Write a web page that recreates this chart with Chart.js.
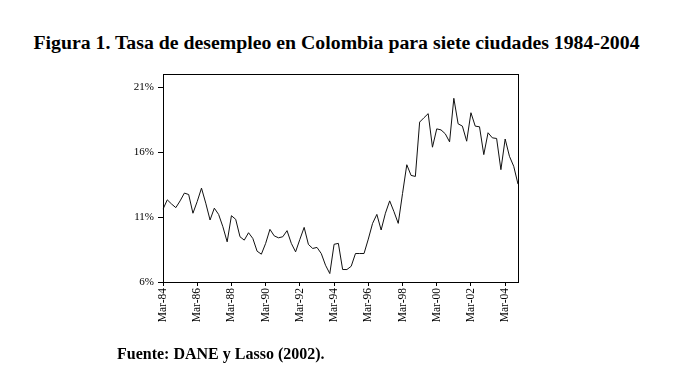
<!DOCTYPE html>
<html>
<head>
<meta charset="utf-8">
<script src="https://cdn.jsdelivr.net/npm/chart.js@4.4.1/dist/chart.umd.min.js"></script>
<style>
  html, body { margin: 0; padding: 0; background: #ffffff; }
  body { width: 673px; height: 383px; position: relative; overflow: hidden; }
  #title { position: absolute; left: 0; width: 673px; top: 30px; text-align: center;
           font-family: "Liberation Serif", "DejaVu Serif", serif; font-weight: bold; font-size: 19.8px; line-height: 24px; color: #000; white-space: nowrap; }
  #source { position: absolute; left: 117px; top: 344px;
            font-family: "Liberation Serif", "DejaVu Serif", serif; font-weight: bold; font-size: 16px; line-height: 20px; color: #000; white-space: nowrap; }
  #wrap { position: absolute; left: 0; top: 0; width: 673px; height: 383px; }
</style>
</head>
<body>
<div id="title">Figura 1. Tasa de desempleo en Colombia para siete ciudades 1984-2004</div>
<div id="wrap"><canvas id="c" width="673" height="383"></canvas></div>
<div id="source">Fuente: DANE y Lasso (2002).</div>
<script>
// Quarterly categories, Mar-84 .. Dec-04
const categories = [
  "Mar-84","Jun-84","Sep-84","Dec-84","Mar-85","Jun-85","Sep-85","Dec-85",
  "Mar-86","Jun-86","Sep-86","Dec-86","Mar-87","Jun-87","Sep-87","Dec-87",
  "Mar-88","Jun-88","Sep-88","Dec-88","Mar-89","Jun-89","Sep-89","Dec-89",
  "Mar-90","Jun-90","Sep-90","Dec-90","Mar-91","Jun-91","Sep-91","Dec-91",
  "Mar-92","Jun-92","Sep-92","Dec-92","Mar-93","Jun-93","Sep-93","Dec-93",
  "Mar-94","Jun-94","Sep-94","Dec-94","Mar-95","Jun-95","Sep-95","Dec-95",
  "Mar-96","Jun-96","Sep-96","Dec-96","Mar-97","Jun-97","Sep-97","Dec-97",
  "Mar-98","Jun-98","Sep-98","Dec-98","Mar-99","Jun-99","Sep-99","Dec-99",
  "Mar-00","Jun-00","Sep-00","Dec-00","Mar-01","Jun-01","Sep-01","Dec-01",
  "Mar-02","Jun-02","Sep-02","Dec-02","Mar-03","Jun-03","Sep-03","Dec-03",
  "Mar-04","Jun-04","Sep-04","Dec-04"
];

// Unemployment rate, seven cities (%)
const unemployment = [
  11.6, 12.32, 12.0, 11.72, 12.24, 12.84, 12.73, 11.29,
  12.19, 13.22, 12.06, 10.77, 11.68, 11.2, 10.25, 9.09,
  11.1, 10.82, 9.48, 9.22, 9.79, 9.35, 8.37, 8.14,
  8.97, 10.05, 9.55, 9.4, 9.48, 9.95, 8.97, 8.32,
  9.28, 10.2, 8.89, 8.58, 8.66, 8.19, 7.29, 6.65,
  8.9, 8.97, 6.96, 6.96, 7.21, 8.19, 8.19, 8.19,
  9.3, 10.51, 11.2, 10.0, 11.29, 12.24, 11.41, 10.51,
  12.8, 15.02, 14.2, 14.12, 18.3, 18.63, 18.95, 16.37,
  17.78, 17.7, 17.4, 16.78, 20.13, 18.17, 17.99, 16.83,
  19.02, 17.99, 17.94, 15.8, 17.48, 17.09, 17.04, 14.64,
  17.0, 15.67, 14.9, 13.53
];

// Tick labels
const xTickLabels = ["Mar-84","Mar-86","Mar-88","Mar-90","Mar-92","Mar-94","Mar-96","Mar-98","Mar-00","Mar-02","Mar-04"];
const yTickValues = [6, 11, 16, 21];

const serif = "'Liberation Serif', 'DejaVu Serif', serif";

const boxPlugin = {
  id: 'box',
  afterDraw(chart) {
    const a = chart.chartArea, ctx = chart.ctx;
    ctx.save();
    ctx.strokeStyle = '#000';
    ctx.lineWidth = 1;
    ctx.strokeRect(Math.round(a.left) + 0.5, Math.round(a.top) + 0.5,
                   Math.round(a.right - a.left), Math.round(a.bottom - a.top));
    ctx.restore();
  }
};

new Chart(document.getElementById('c'), {
  type: 'line',
  data: {
    labels: categories,
    datasets: [{
      data: unemployment,
      borderColor: '#111',
      borderWidth: 1,
      pointRadius: 0,
      tension: 0,
      fill: false
    }]
  },
  options: {
    responsive: false,
    animation: false,
    events: [],
    layout: { padding: { left: 0, top: 74, right: 155, bottom: 0 } },
    plugins: { legend: { display: false }, tooltip: { enabled: false }, title: { display: false } },
    scales: {
      x: {
        type: 'category',
        offset: false,
        border: { display: true, color: '#000', width: 1 },
        grid: { display: true, drawOnChartArea: false, drawTicks: true, tickLength: 4, color: '#000', tickColor: '#000' },
        ticks: {
          autoSkip: false,
          minRotation: 90,
          maxRotation: 90,
          padding: 2,
          color: '#000',
          font: { family: serif, size: 11.5 }
        },
        afterBuildTicks(scale) {
          scale.ticks = scale.ticks.filter(t => xTickLabels.includes(categories[t.value]));
        },
        afterFit(scale) { scale.height = 101; }
      },
      y: {
        min: 6,
        max: 22,
        border: { display: true, color: '#000', width: 1 },
        grid: { display: true, drawOnChartArea: false, drawTicks: true, tickLength: 5, color: '#000', tickColor: '#000' },
        ticks: {
          padding: 4,
          color: '#000',
          font: { family: serif, size: 11 },
          callback: v => v + '%'
        },
        afterBuildTicks(scale) {
          scale.ticks = yTickValues.map(v => ({ value: v }));
        },
        afterFit(scale) { scale.width = 163; }
      }
    }
  },
  plugins: [boxPlugin]
});
</script>
</body>
</html>
